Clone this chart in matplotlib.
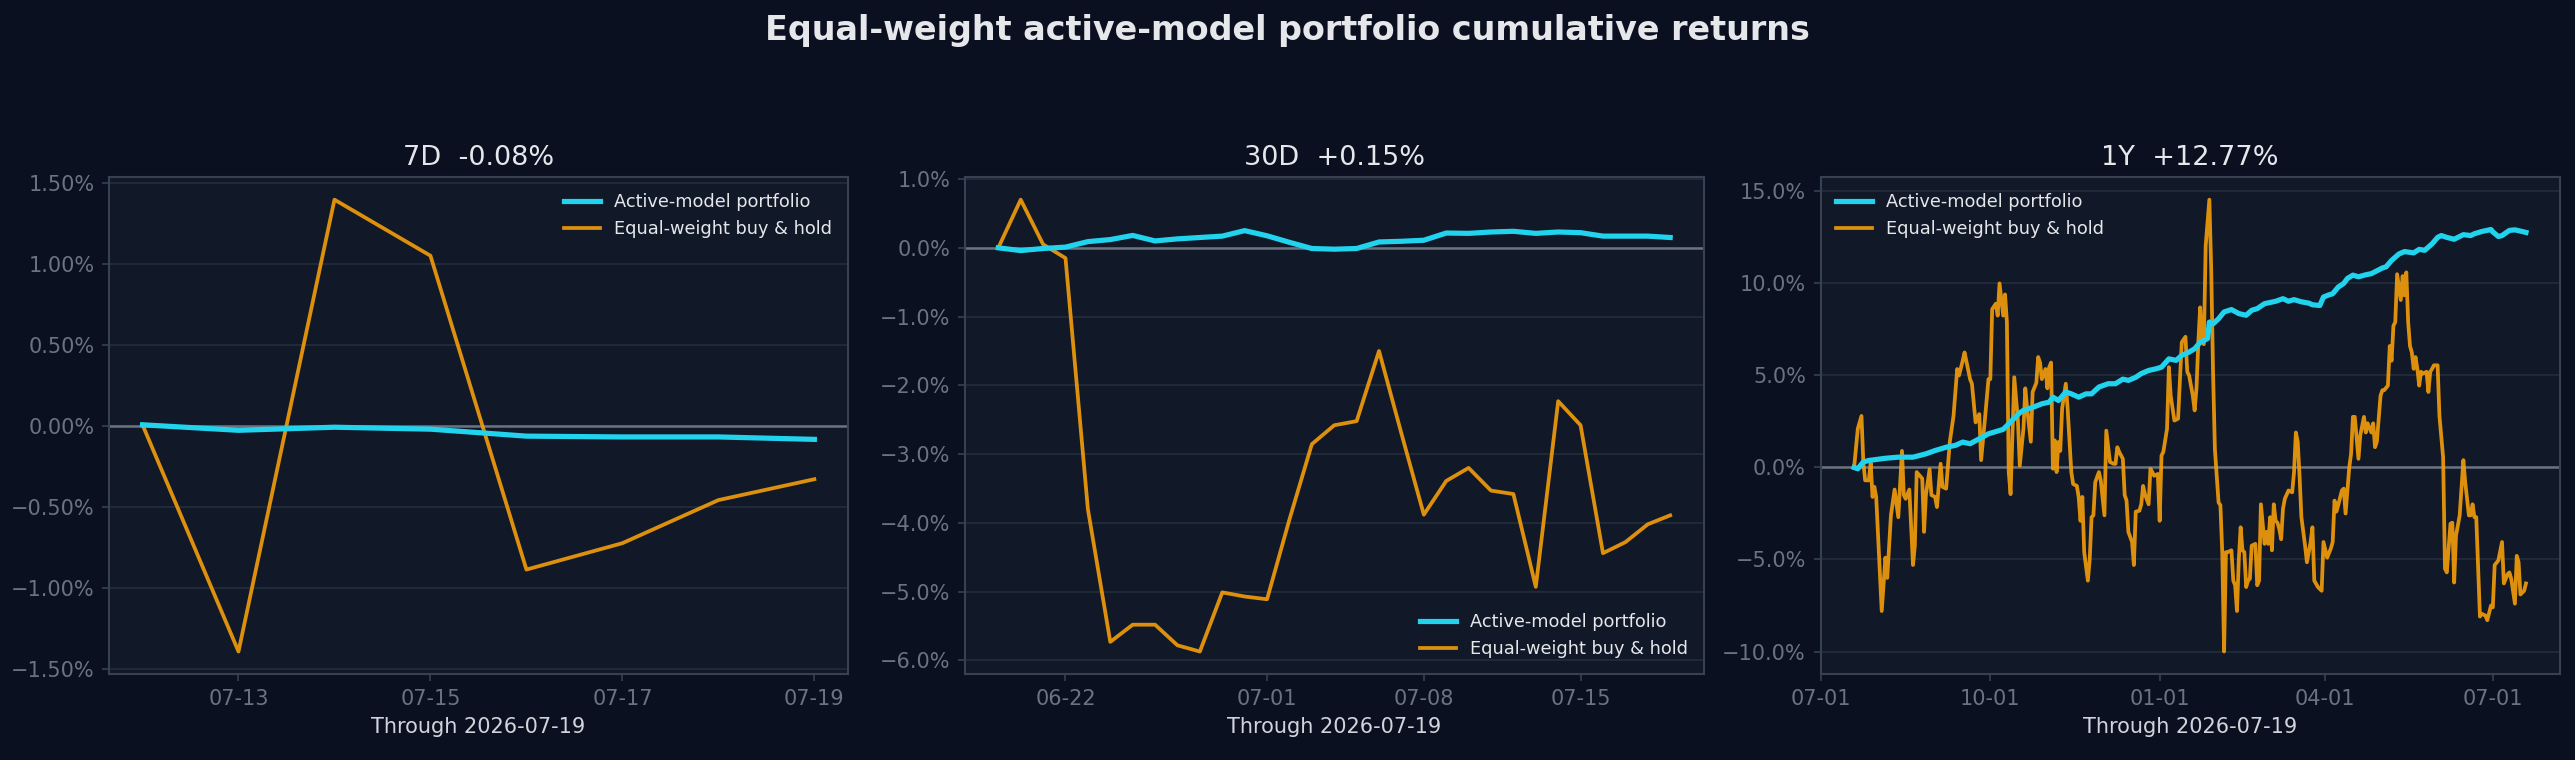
import numpy as np
import pandas as pd
import matplotlib
matplotlib.use("Agg")
import matplotlib.pyplot as plt
import matplotlib.dates as mdates
from matplotlib.ticker import PercentFormatter

BG = "#0b1020"
FACE = "#111827"
SPINE = "#374151"
GRID = "#1f2937"
TICK = "#6b7280"
TEXT = "#e5e7eb"
CYAN = "#22d3ee"
AMBER = "#f59e0b"

THROUGH = "2026-07-19"

# 7D window, daily
d7_start = "2026-07-12"
d7_model = [0.01, -0.024, -0.005, -0.017, -0.06, -0.065, -0.065, -0.08]
d7_bench = [0.01, -1.39, 1.40, 1.054, -0.884, -0.721, -0.455, -0.326]

# 30D window, daily
d30_start = "2026-06-19"
d30_model = [0.0, -0.04, -0.01, 0.01, 0.09, 0.12, 0.18, 0.10, 0.13, 0.15, 0.17,
             0.25, 0.175, 0.08, -0.01, -0.02, -0.01, 0.085, 0.095, 0.11, 0.215,
             0.21, 0.23, 0.24, 0.21, 0.23, 0.22, 0.17, 0.17, 0.17, 0.15]
d30_bench = [0.0, 0.70, 0.05, -0.15, -3.80, -5.73, -5.48, -5.48, -5.78, -5.87,
             -5.01, -5.07, -5.11, -3.95, -2.855, -2.58, -2.52, -1.50, -2.70,
             -3.88, -3.39, -3.20, -3.53, -3.58, -4.93, -2.23, -2.58, -4.44,
             -4.28, -4.02, -3.89]

# 1Y window: day offsets from start, values in %
y1_start = "2025-07-19"
y1_model_day = [0, 2, 5, 8, 17, 24, 32, 39, 44, 50, 55, 59, 63, 68, 73, 81, 84, 90,
                92, 95, 98, 102, 106, 108, 111, 115, 118, 122, 126, 129, 133, 138,
                142, 146, 149, 153, 156, 160, 164, 167, 171, 175, 178, 182, 185,
                188, 192, 193, 195, 198, 201, 205, 209, 213, 216, 219, 223, 229,
                233, 236, 239, 243, 247, 249, 253, 255, 258, 260, 263, 266, 268,
                271, 274, 278, 281, 287, 289, 292, 296, 299, 304, 307, 310, 314,
                317, 319, 322, 326, 328, 331, 335, 337, 341, 346, 347, 350, 352,
                356, 359, 363, 365]
y1_model = [0.0, -0.07, 0.3, 0.38, 0.5, 0.56, 0.56, 0.74, 0.92, 1.1, 1.2, 1.38,
            1.29, 1.56, 1.83, 2.07, 2.37, 2.97,
            3.1, 3.2, 3.3, 3.46, 3.55, 3.82, 3.64, 4.1, 4.0, 3.82, 4.0, 4.0, 4.37,
            4.55, 4.55, 4.8, 4.73, 4.9, 5.1, 5.27, 5.36, 5.45, 5.9, 5.82, 6.09,
            6.27, 6.45,
            6.8, 7.0, 7.9, 7.8, 8.08, 8.45, 8.58, 8.36, 8.27, 8.54, 8.63, 8.9,
            9.03, 9.17, 9.03, 9.12, 9.0, 8.93, 8.84, 8.8, 9.26, 9.38, 9.44, 9.8,
            10.0, 10.27, 10.45, 10.36, 10.47, 10.53,
            10.84, 10.9, 11.25, 11.6, 11.73, 11.66, 11.85, 11.8, 12.15, 12.5,
            12.6, 12.5, 12.4, 12.5, 12.65, 12.6, 12.7, 12.82, 12.93, 12.8,
            12.55, 12.6, 12.88, 12.91, 12.82, 12.77]

y1_bench_day = [0, 2, 4, 5, 6, 8, 9, 10, 11, 12, 15, 17, 18, 20, 22, 24, 26, 27,
                28, 30, 32, 33, 34, 37, 38, 39, 41, 42, 44, 45, 47, 48, 50, 52,
                54, 56, 57, 59, 60, 63, 64, 66, 68, 69, 71, 73, 74, 75, 77, 78,
                79, 81, 82, 83, 84, 85, 87, 89,
                90, 92, 93, 94, 96, 97, 99, 100, 101, 102, 104, 105, 106, 107,
                108, 109, 110, 111, 112, 113, 115, 116, 118, 119, 121, 122, 123,
                124, 125, 127, 128, 129, 130, 131, 133, 134, 136, 137, 139, 141,
                142, 143, 144, 146, 147, 148, 149, 151, 152, 153, 155, 156, 157,
                158, 160, 161, 162, 163, 165, 166, 167, 168, 170, 171, 172, 174,
                176, 178, 180, 181, 182, 184, 185, 186, 187,
                188, 189, 190, 191, 193, 194, 195, 196, 197, 198, 199, 200, 201,
                202, 203, 205, 206, 207, 208, 209, 210, 211, 212, 213, 214, 215,
                216, 218, 219, 220, 221, 223, 224, 225, 226, 227, 228, 229, 230,
                231, 232, 233, 234, 236, 238, 239, 240, 241, 242, 243, 245, 246,
                248, 249, 250, 252, 254, 255, 257, 259, 260, 261, 262, 263, 265,
                266, 267, 269, 270, 271, 272, 274, 275, 277, 278, 279, 281, 282,
                283,
                284, 286, 287, 288, 290, 291, 292, 293, 294, 295, 297, 298, 299,
                300, 301, 302, 303, 304, 305, 306, 307, 308, 309, 311, 312, 313,
                314, 315, 317, 318, 320, 321, 322, 324, 325, 326, 327, 329, 331,
                332, 334, 335, 336, 337, 338, 339, 340, 341, 343, 344, 346, 347,
                348, 350, 352, 353, 355, 356, 357, 359, 360, 361, 362, 364, 365]
y1_bench = [0.0, 2.1, 2.8, 0.3, -0.7, -0.7, 0.25, -1.6, -1.05, -1.6, -7.8, -4.9,
            -6.0, -2.6, -1.2, -2.7, 0.9, -1.5, -1.7, -1.2, -5.3, -4.25, -0.25,
            -0.6, -3.5, -1.5, -0.1, -1.5, -1.6, -2.15, 0.2, -1.05, -1.15, 1.4,
            2.8, 5.35, 5.0, 5.8, 6.25, 4.8, 4.55, 2.45, 2.9, 0.4, 2.55, 4.8, 4.8,
            8.6, 8.9, 8.25, 10.0, 8.25, 9.4, 7.9, -0.25, -1.45, 4.9, 2.55,
            0.1, 2.1, 4.3, 3.2, 1.4, 4.1, 4.6, 6.0, 5.7, 4.8, 5.35, 4.3, 5.45,
            5.7, -0.07, 1.47, -0.25, 1.38, 0.9, 3.2, 4.55, 3.2, -0.25, -0.9,
            -1.0, -1.6, -2.9, -1.6, -4.6, -6.15, -5.0, -2.7, -2.6, -0.8, -0.25,
            -0.7, -2.6, 2.0, 0.3, 0.2, 0.2, 1.1, 0.85, 0.47, -1.5, -1.8, -3.5,
            -4.05, -5.3, -2.4, -2.35, -2.0, -1.0, -1.45, -2.0, -0.07, -0.25,
            -0.45, -0.35, -2.9, 0.65, 0.85, 2.1, 5.45, 3.9, 2.55, 2.65, 6.8,
            7.1, 5.2, 5.0, 3.9, 3.1, 4.3, 6.8,
            8.7, 6.8, 6.7, 12.05, 14.55, 10.8, 5.2, 1.0, -0.45, -1.9, -2.05,
            -4.6, -10.0, -4.6, -4.6, -4.5, -6.15, -6.4, -7.8, -5.0, -3.25, -4.5,
            -4.6, -6.5, -6.15, -6.05, -4.25, -4.15, -6.4, -6.15, -2.0, -4.15,
            -3.5, -4.15, -2.7, -4.5, -2.0, -2.9, -3.0, -3.35, -3.9, -2.25, -1.7,
            -1.25, -1.35, -0.25, 1.9, 1.4, -0.45, -2.7, -4.25, -5.15, -4.05,
            -3.25, -6.15, -6.5, -6.7, -4.05, -4.9, -4.4, -4.05, -1.8, -2.4,
            -2.05, -1.25, -1.15, -2.5, 0.0, 0.75, 2.75, 2.75, 0.47, 1.75, 2.75,
            1.9, 2.4, 1.9, 2.4, 1.1,
            1.4, 3.9, 4.2, 4.2, 4.45, 6.6, 5.8, 7.7, 7.9, 10.5, 9.1, 10.4, 9.35,
            10.6, 7.9, 6.6, 6.25, 5.36, 6.0, 5.36, 4.45, 5.2, 5.1, 5.2, 4.1,
            5.2, 5.36, 5.55, 5.55, 2.8, 0.55, -5.5, -5.7, -3.05, -3.0, -6.25,
            -3.7, -2.6, 0.4, -0.8, -2.6, -2.6, -2.0, -2.7, -2.7, -5.4, -8.1,
            -7.95, -8.05, -8.3, -7.5, -7.6, -5.3, -5.05, -4.05, -6.3, -5.8,
            -5.7, -6.05, -7.4, -4.8, -5.15, -6.9, -6.7, -6.3]


def daily(start, n):
    return pd.date_range(start, periods=n, freq="D")


def offsets(start, days):
    return pd.Timestamp(start) + pd.to_timedelta(days, unit="D")


panels = [
    ("7D", daily(d7_start, len(d7_model)), d7_model,
     daily(d7_start, len(d7_bench)), d7_bench, 2),
    ("30D", daily(d30_start, len(d30_model)), d30_model,
     daily(d30_start, len(d30_bench)), d30_bench, 1),
    ("1Y", offsets(y1_start, y1_model_day), y1_model,
     offsets(y1_start, y1_bench_day), y1_bench, 1),
]

fig, axes = plt.subplots(1, 3, figsize=(2575 / 150, 760 / 150), dpi=150)
fig.patch.set_facecolor(BG)
fig.subplots_adjust(left=0.0423, right=0.994, top=0.767, bottom=0.113, wspace=0.158)

for ax, (name, mx, my, bx, by, dec) in zip(axes, panels):
    ax.set_facecolor(FACE)
    ax.set_axisbelow(True)
    ax.grid(axis="y", color=GRID, lw=1.0)
    ax.axhline(0, color=TICK, lw=1.2, zorder=1)
    ax.plot(mx, my, color=CYAN, lw=2.5, label="Active-model portfolio", zorder=3)
    ax.plot(bx, by, color=AMBER, lw=1.8, alpha=0.9,
            label="Equal-weight buy & hold", zorder=2)

    loc = mdates.AutoDateLocator(minticks=3, maxticks=6)
    ax.xaxis.set_major_locator(loc)
    ax.xaxis.set_major_formatter(mdates.DateFormatter("%m-%d"))
    ax.yaxis.set_major_formatter(PercentFormatter(xmax=100, decimals=dec))

    for s in ax.spines.values():
        s.set_color(SPINE)
        s.set_linewidth(1.0)
    ax.tick_params(colors=SPINE, labelcolor=TICK, labelsize=10)

    ax.set_title(f"{name}  {my[-1]:+.2f}%", color=TEXT, fontsize=13)
    ax.set_xlabel(f"Through {THROUGH}", color="#d1d5db", fontsize=10)

    leg = ax.legend(loc="best", frameon=False, fontsize=8.5)
    for t in leg.get_texts():
        t.set_color(TEXT)

fig.suptitle("Equal-weight active-model portfolio cumulative returns",
             color=TEXT, fontsize=16, fontweight="bold", y=0.981)

fig.savefig("out.png", dpi=150, facecolor=BG)
